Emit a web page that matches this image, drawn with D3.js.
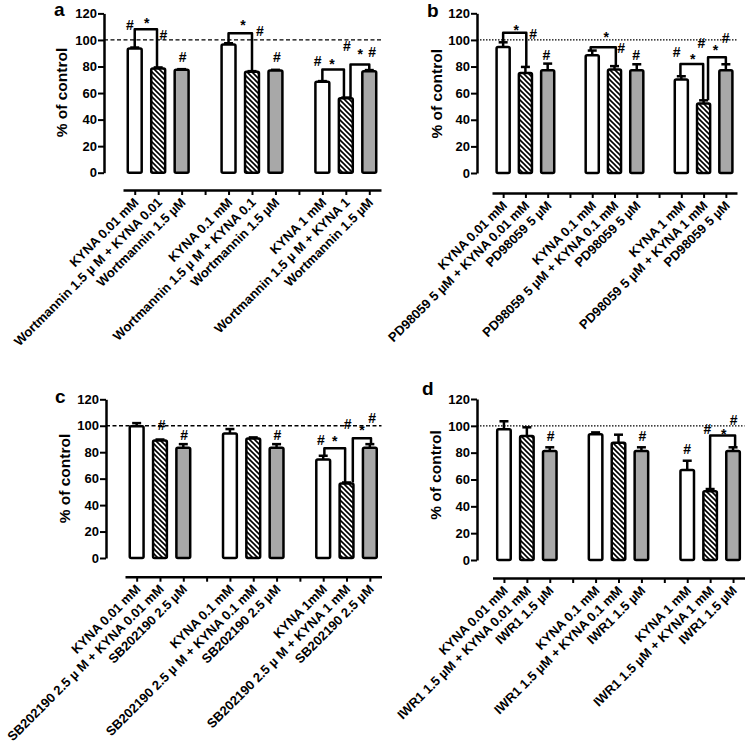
<!DOCTYPE html>
<html>
<head>
<meta charset="utf-8">
<title>kyna panels</title>
<script src="https://d3js.org/d3.v7.min.js"></script>
<style>
body { margin: 0; background: #fff; }
svg text { font-family: "Liberation Sans", Arial, sans-serif; font-weight: bold; }
</style>
</head>
<body>
<svg id="chart" width="748" height="751"></svg>
<script>
// slots 3 and 7 are the empty gaps between groups
const slots = d3.range(11);
const barSlots = [0, 1, 2, 4, 5, 6, 8, 9, 10];
const barKinds = ["open", "hatch", "grey", "open", "hatch", "grey", "open", "hatch", "grey"];
const yTicks = [0, 20, 40, 60, 80, 100, 120];
const mu = "\u00b5";

const labelsA = ["KYNA 0.01 mM", "Wortmannin 1.5 " + mu + " M + KYNA 0.01", "Wortmannin 1.5 " + mu + "M",
  "KYNA 0.1 mM", "Wortmannin 1.5 " + mu + " M + KYNA 0.1", "Wortmannin 1.5 " + mu + "M",
  "KYNA 1 mM", "Wortmannin 1.5 " + mu + " M + KYNA 1", "Wortmannin 1.5 " + mu + "M"];
const valuesA = [93.5, 78.5, 77.5, 96.5, 76, 77, 68.5, 56, 76.5];
const errorsA = [0.8, 0.8, 0.5, 1, 0.5, 0.5, 0.5, 0.6, 0.8];
const marksA = [[-0.21, 111.5, "#"], [0.51, 115.3, "*"], [1.22, 103.4, "#"], [2.04, 87.4, "#"],
  [4.62, 113.3, "*"], [5.34, 106.5, "#"], [6.06, 87.4, "#"],
  [7.8, 84, "#"], [8.41, 84.2, "*"], [9.05, 95.6, "#"], [9.61, 91.7, "*"], [10.12, 91.2, "#"]];
const bracketsA = [[0, 0.95, 108], [4, 5, 105], [8, 8.92, 77.8], [9.2, 10, 81.5]];

const labelsB = ["KYNA 0.01 mM", "PD98059 5 " + mu + "M + KYNA 0.01 mM", "PD98059 5 " + mu + "M",
  "KYNA 0.1 mM", "PD98059 5 " + mu + "M + KYNA 0.1 mM", "PD98059 5 " + mu + "M",
  "KYNA 1 mM", "PD98059 5 " + mu + "M + KYNA 1 mM", "PD98059 5 " + mu + "M"];
const valuesB = [94.7, 75.2, 77.2, 88.5, 77.8, 77.2, 70.2, 52.2, 77.2];
const errorsB = [3.5, 4.5, 5, 3.5, 2.5, 4.5, 2.5, 2.4, 4.5];
const marksB = [[0.59, 109.7, "*"], [1.35, 104.4, "#"], [1.94, 88.9, "#"],
  [4.63, 104.9, "*"], [5.3, 94.2, "#"], [5.97, 88.9, "#"],
  [7.79, 91.2, "#"], [8.51, 87.8, "*"], [8.9, 97.8, "#"], [9.53, 94.9, "*"], [9.99, 101.7, "#"]];
const bracketsB = [[0, 1.04, 105.4], [3.93, 5.06, 94.4], [7.96, 8.98, 81.9], [9.2, 10, 86.9]];

const labelsC = ["KYNA 0.01 mM", "SB202190 2.5 " + mu + " M + KYNA 0.01 mM", "SB202190 2.5 " + mu + "M",
  "KYNA 0.1 mM", "SB202190 2.5 " + mu + " M + KYNA 0.1 mM", "SB202190 2.5 " + mu + "M",
  "KYNA 1mM", "SB202190 2.5 " + mu + " M + KYNA 1 mM", "SB202190 2.5 " + mu + "M"];
const valuesC = [99.7, 88.8, 83.3, 94.1, 90.4, 83.3, 74.5, 56.3, 83.3];
const errorsC = [2.3, 0.8, 2.8, 3.4, 0.8, 2.8, 2.8, 0.8, 2.8];
const marksC = [[1.07, 100.8, "#"], [2.04, 92.8, "#"], [6.04, 92.8, "#"],
  [7.9, 89, "#"], [8.49, 91, "*"], [9.05, 101.2, "#"], [9.66, 99, "*"], [10.1, 105.6, "#"]];
const bracketsC = [[8.05, 8.94, 82.9], [9.27, 10.05, 90.5]];

const labelsD = ["KYNA 0.01 mM", "IWR1 1.5 " + mu + "M + KYNA 0.01 mM", "IWR1 1.5 " + mu + "M",
  "KYNA 0.1 mM", "IWR1 1.5 " + mu + "M + KYNA 0.1 mM", "IWR1 1.5 " + mu + "M",
  "KYNA 1 mM", "IWR1 1.5 " + mu + "M + KYNA 1 mM", "IWR1 1.5 " + mu + "M"];
const valuesD = [97.4, 92.4, 81.2, 93.7, 87.4, 81.2, 67, 51.3, 81.2];
const errorsD = [6, 6.5, 2.8, 1.4, 6, 2.8, 7, 1.6, 2.8];
const marksD = [[2.04, 92.4, "#"], [6.04, 92.4, "#"], [8.0, 82.5, "#"],
  [8.88, 97.4, "#"], [9.59, 96.4, "*"], [10.03, 104.5, "#"]];
const bracketsD = [[9.0, 10.09, 92.8]];

const svg = d3.select("#chart");

const pat = svg.append("defs").append("pattern")
  .attr("id", "hatch").attr("patternUnits", "userSpaceOnUse")
  .attr("width", 5).attr("height", 5);
pat.append("rect").attr("width", 5).attr("height", 5).attr("fill", "#fff");
pat.append("path").attr("d", "M-1,-1 L6,6 M-1,4 L1,6 M4,-1 L6,1")
  .attr("stroke", "#000").attr("stroke-width", 1.6);

const fillOf = { open: "#fff", hatch: "url(#hatch)", grey: "#a8a8a8" };

function drawPanel(p) {
  const g = svg.append("g");
  const x = d3.scaleLinear().domain([-0.5, 10.5]).range(p.xRange);
  const y = d3.scaleLinear().domain([0, 120]).range([p.y0, p.y120]);
  const step = x(1) - x(0);
  const bw = step * 0.7 - 2.5;

  const bars = barSlots.map((s, i) => ({ slot: s, v: p.values[i], e: p.errors[i], kind: barKinds[i] }));
  const topAt = s => {
    const b = bars.find(d => d.slot === Math.round(s));
    return b.v + b.e;
  };

  // reference line at 100 %
  g.append("line")
    .attr("x1", p.yAxisX).attr("x2", p.xRange[1])
    .attr("y1", y(100)).attr("y2", y(100))
    .attr("stroke", "#000").attr("stroke-width", p.dotted ? 1.2 : 1.3)
    .attr("stroke-dasharray", p.dotted ? "1.5,1.5" : "4,2.5");

  // error bars
  const eb = g.selectAll(".err").data(bars).enter().append("g").attr("class", "err")
    .attr("stroke", "#000").attr("stroke-width", 2.5);
  eb.append("line")
    .attr("x1", d => x(d.slot)).attr("x2", d => x(d.slot))
    .attr("y1", d => y(d.v)).attr("y2", d => y(d.v + d.e));
  eb.append("line")
    .attr("x1", d => x(d.slot) - 4.5).attr("x2", d => x(d.slot) + 4.5)
    .attr("y1", d => y(d.v + d.e)).attr("y2", d => y(d.v + d.e));

  g.selectAll(".bar").data(bars).enter().append("rect").attr("class", "bar")
    .attr("x", d => x(d.slot) - bw / 2)
    .attr("width", bw)
    .attr("y", d => y(d.v))
    .attr("height", d => y(0) - y(d.v))
    .attr("rx", 1.5)
    .attr("fill", d => fillOf[d.kind])
    .attr("stroke", "#000").attr("stroke-width", 2.5);

  // brackets between compared bars
  g.selectAll(".bracket").data(p.brackets).enter().append("path").attr("class", "bracket")
    .attr("d", d => `M${x(d[0])},${y(topAt(d[0]))}V${y(d[2])}H${x(d[1])}V${y(topAt(d[1]))}`)
    .attr("fill", "none").attr("stroke", "#000").attr("stroke-width", 2.5)
    .attr("stroke-linejoin", "round");

  g.selectAll(".mark").data(p.marks).enter().append("text").attr("class", "mark")
    .attr("x", d => x(d[0])).attr("y", d => y(d[1]))
    .attr("dy", d => d[2] === "*" ? "0.58em" : "0.36em")
    .attr("text-anchor", "middle")
    .attr("font-size", 14)
    .text(d => d[2]);

  // y axis
  const ya = g.append("g").attr("transform", `translate(${p.yAxisX},0)`)
    .call(d3.axisLeft(y).tickValues(yTicks).tickSize(6).tickPadding(1).tickSizeOuter(0));
  ya.attr("font-family", null).attr("font-size", 13);
  ya.select(".domain").attr("stroke-width", 2.5);
  ya.selectAll(".tick line").attr("stroke-width", 2);

  // x axis
  const xa = g.append("g").attr("transform", `translate(0,${p.xAxisY})`)
    .call(d3.axisBottom(x).tickValues(slots).tickSize(5).tickSizeOuter(0)
      .tickFormat(s => { const i = barSlots.indexOf(s); return i < 0 ? "" : p.labels[i]; }));
  xa.attr("font-family", null).attr("font-size", 13);
  xa.select(".domain").attr("stroke-width", 2.5);
  xa.selectAll(".tick line").attr("stroke-width", 2);
  xa.selectAll(".tick text")
    .attr("x", 0).attr("y", 0).attr("dy", "0.35em")
    .attr("text-anchor", "end")
    .attr("transform", "translate(1,10) rotate(-45)");

  g.append("text")
    .attr("transform", `translate(${p.titleX},${p.titleY}) rotate(-90)`)
    .attr("text-anchor", "middle").attr("font-size", 15.5)
    .text("% of control");

  g.append("text").attr("x", p.letterX).attr("y", p.letterY)
    .attr("font-size", 19).text(p.letter);
}

drawPanel({ letter: "a", letterX: 54, letterY: 16, titleX: 67, titleY: 92.5,
  yAxisX: 104, y0: 172.7, y120: 13.4, xRange: [123, 381], xAxisY: 190, dotted: false,
  labels: labelsA, values: valuesA, errors: errorsA, marks: marksA, brackets: bracketsA });
drawPanel({ letter: "b", letterX: 427, letterY: 17, titleX: 442, titleY: 93.8,
  yAxisX: 477, y0: 173, y120: 13.3, xRange: [492, 737], xAxisY: 193, dotted: true,
  labels: labelsB, values: valuesB, errors: errorsB, marks: marksB, brackets: bracketsB });
drawPanel({ letter: "c", letterX: 55, letterY: 403, titleX: 70, titleY: 478.5,
  yAxisX: 106, y0: 558, y120: 399.3, xRange: [125, 381.5], xAxisY: 576.7, dotted: false,
  labels: labelsC, values: valuesC, errors: errorsC, marks: marksC, brackets: bracketsC });
drawPanel({ letter: "d", letterX: 422, letterY: 395, titleX: 441, titleY: 475,
  yAxisX: 477, y0: 560, y120: 399, xRange: [492.5, 744.5], xAxisY: 578, dotted: true,
  labels: labelsD, values: valuesD, errors: errorsD, marks: marksD, brackets: bracketsD });
</script>
</body>
</html>
